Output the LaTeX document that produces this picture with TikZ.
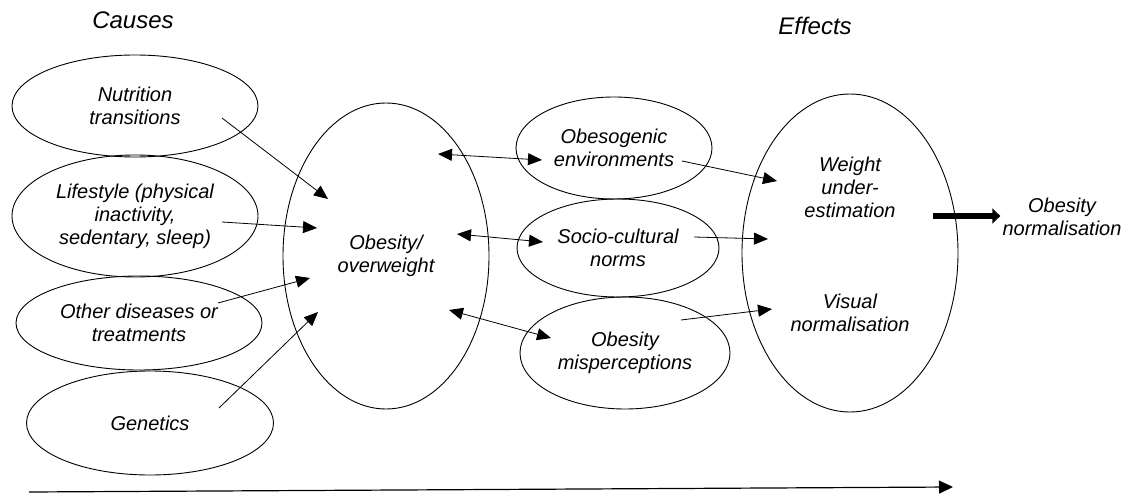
\documentclass[tikz,border=0pt]{standalone}
\usepackage{fontspec}
\setmainfont{Liberation Sans}
\usetikzlibrary{shapes}
\usetikzlibrary{arrows.meta}
\tikzstyle{blob} = [ellipse, draw=black, line width=0.9pt, inner sep=0pt,
align=center]
\tikzstyle{caption} = [align=center, inner sep=2pt]
\tikzstyle{heading} = [caption, font=\fontsize{24}{28}\selectfont\itshape]
\tikzstyle{link} = [-{Triangle[length=14pt,width=12pt]}, line width=0.8pt]
\tikzstyle{twoway} = [{Triangle[length=14pt,width=12pt]}-{Triangle[length=14pt,width=12pt]}, line width=0.8pt]
\tikzstyle{fat} = [-{Triangle[length=8pt,width=15pt]}, line width=6.5pt]
\tikzstyle{timeline} = [-{Triangle[length=14pt,width=13pt]}, line width=1.2pt]
\tikzset{
  font={\fontsize{20}{23}\selectfont\itshape}
}

\begin{document}
\begin{tikzpicture}[x=1pt, y=-1pt]
    \useasboundingbox (0,0) rectangle (1124,494);
    \node[heading](causes) at (133,20) {Causes};
    \node[heading](effects) at (815,26) {Effects};
    % causes
    \node[blob, minimum width=246pt, minimum height=102pt](nutrition) at (135,106) {Nutrition\\transitions};
    \node[blob, minimum width=246pt, minimum height=122pt](lifestyle) at (135,216) {Lifestyle (physical\\inactivity,\\sedentary, sleep)};
    \node[blob, minimum width=246pt, minimum height=94pt](other) at (139,323) {Other diseases or\\treatments};
    \node[blob, minimum width=247pt, minimum height=104pt](genetics) at (150,423) {Genetics};
    \node[blob, minimum width=206pt, minimum height=306pt](obesity) at (386,256) {Obesity/\\overweight};
    % mediators
    \node[blob, minimum width=196pt, minimum height=102pt](obesogenic) at (614,148) {Obesogenic\\environments};
    \node[blob, minimum width=202pt, minimum height=98pt](socio) at (618,248) {Socio-cultural\\norms};
    \node[blob, minimum width=210pt, minimum height=112pt](misperc) at (625,353) {Obesity\\misperceptions};
    % effects
    \node[blob, minimum width=216pt, minimum height=318pt](outcome) at (850,253) {};
    \node[caption](weight) at (850,187) {Weight\\under-\\estimation};
    \node[caption](visual) at (850,313) {Visual\\normalisation};
    \node[caption](normal) at (1062,217) {Obesity\\normalisation};
    \draw[link] ([shift={(87,12)}]nutrition.center) -- ([shift={(-58,-57)}]obesity.center);
    \draw[link] ([shift={(87,6)}]lifestyle.center) -- ([shift={(-69,-28)}]obesity.center);
    \draw[link] ([shift={(79,-20)}]other.center) -- ([shift={(-76,22)}]obesity.center);
    \draw[link] ([shift={(69,-15)}]genetics.center) -- ([shift={(-68,56)}]obesity.center);
    \draw[twoway] ([shift={(52,-102)}]obesity.center) -- ([shift={(-72,12)}]obesogenic.center);
    \draw[twoway] ([shift={(71,-22)}]obesity.center) -- ([shift={(-75,-6)}]socio.center);
    \draw[twoway] ([shift={(63,54)}]obesity.center) -- ([shift={(-74,-15)}]misperc.center);
    \draw[link] ([shift={(68,13)}]obesogenic.center) -- ([shift={(-73,-72)}]outcome.center);
    \draw[link] ([shift={(76,-11)}]socio.center) -- ([shift={(-82,-14)}]outcome.center);
    \draw[link] ([shift={(56,-33)}]misperc.center) -- ([shift={(-78,56)}]outcome.center);
    \draw[fat] ([shift={(83,-37)}]outcome.center) -- (normal.west |- {(0,216)});
    % time axis
    \coordinate (start) at (29,492);
    \coordinate (end) at (953,487);
    \draw[timeline] (start) -- (end);
\end{tikzpicture}
\end{document}
